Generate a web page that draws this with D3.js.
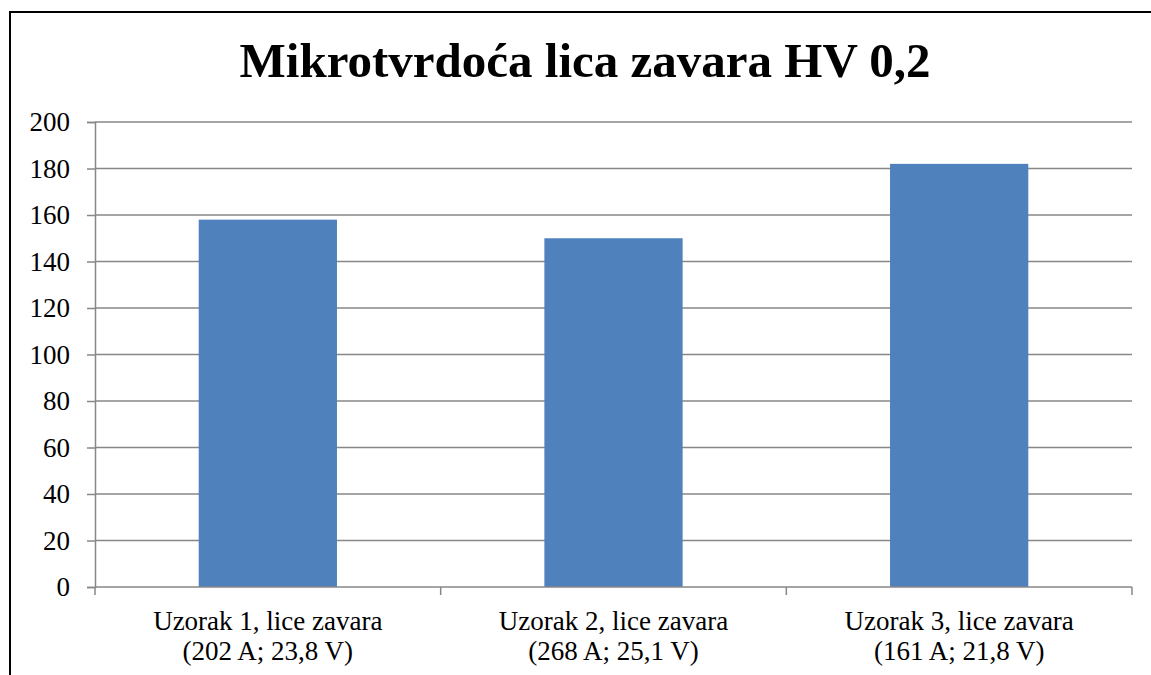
<!DOCTYPE html>
<html>
<head>
<meta charset="utf-8">
<script src="https://cdn.jsdelivr.net/npm/d3@7/dist/d3.min.js"></script>
<style>
  html, body { margin: 0; padding: 0; background: #fff; }
  svg { display: block; }
  svg text { font-family: "Liberation Serif", "DejaVu Serif", serif; fill: #000; }
</style>
</head>
<body>
<svg id="chart" width="1151" height="675"></svg>
<script>
// Microhardness of the weld face, HV 0.2
const title = "Mikrotvrdoća lica zavara HV 0,2";
const categories = ["Uzorak 1", "Uzorak 2", "Uzorak 3"];
const categoryLines = [
  ["Uzorak 1, lice zavara", "(202 A; 23,8 V)"],
  ["Uzorak 2, lice zavara", "(268 A; 25,1 V)"],
  ["Uzorak 3, lice zavara", "(161 A; 21,8 V)"]
];
const hardness = [158, 150, 182];
const yTicks = [0, 20, 40, 60, 80, 100, 120, 140, 160, 180, 200];

const svg = d3.select("#chart");
const W = 1151, H = 675;
const plot = { left: 95, right: 1132, top: 122, bottom: 587 };
const gridColor = "#878787";
const barColor = "#4F81BD";
const serif = '"Liberation Serif", "DejaVu Serif", serif';

// outer frame (continues past the right and bottom edges)
svg.append("rect")
  .attr("x", 10).attr("y", 12)
  .attr("width", W + 20).attr("height", H + 20)
  .attr("fill", "#fff")
  .attr("stroke", "#000")
  .attr("stroke-width", 2);

const x = d3.scaleBand()
  .domain(categories)
  .range([plot.left, plot.right])
  .paddingInner(0.6)
  .paddingOuter(0.3);

const y = d3.scaleLinear()
  .domain([0, 200])
  .range([plot.bottom, plot.top]);

// horizontal gridlines
svg.append("g")
  .selectAll("line")
  .data(yTicks.filter(d => d > 0))
  .join("line")
  .attr("x1", plot.left).attr("x2", plot.right)
  .attr("y1", d => y(d)).attr("y2", d => y(d))
  .attr("stroke", gridColor)
  .attr("stroke-width", 1.5);

// bars
svg.append("g")
  .selectAll("rect")
  .data(hardness)
  .join("rect")
  .attr("x", (d, i) => x(categories[i]))
  .attr("width", x.bandwidth())
  .attr("y", d => y(d))
  .attr("height", d => y(0) - y(d))
  .attr("fill", barColor);

// y axis
const yAxis = svg.append("g")
  .attr("transform", `translate(${plot.left},0)`)
  .call(d3.axisLeft(y).tickValues(yTicks).tickSize(8).tickPadding(17).tickFormat(d3.format("d")));
yAxis.attr("font-family", null).attr("font-size", null);
yAxis.select(".domain").attr("stroke", gridColor).attr("stroke-width", 1.5);
yAxis.selectAll(".tick line").attr("stroke", gridColor).attr("stroke-width", 1.5);
yAxis.selectAll(".tick text")
  .style("font-family", serif)
  .style("font-size", "27px")
  .attr("fill", "#000");

// x axis: ticks at category boundaries
const boundaries = d3.range(categories.length + 1).map(i => plot.left + i * x.step());
const xAxisG = svg.append("g");
xAxisG.append("line")
  .attr("x1", plot.left).attr("x2", plot.right)
  .attr("y1", plot.bottom).attr("y2", plot.bottom)
  .attr("stroke", gridColor).attr("stroke-width", 1.5);
xAxisG.selectAll("line.tick")
  .data(boundaries)
  .join("line")
  .attr("class", "tick")
  .attr("x1", d => d).attr("x2", d => d)
  .attr("y1", plot.bottom).attr("y2", plot.bottom + 8)
  .attr("stroke", gridColor).attr("stroke-width", 1.5);

// category labels (two lines each)
const labels = svg.append("g")
  .selectAll("text")
  .data(categories)
  .join("text")
  .attr("text-anchor", "middle")
  .style("font-family", serif)
  .style("font-size", "27px");
labels.each(function (d, i) {
  const t = d3.select(this);
  categoryLines[i].forEach((line, j) => {
    t.append("tspan")
      .attr("x", x(d) + x.bandwidth() / 2)
      .attr("y", 630 + j * 30)
      .text(line);
  });
});

// title
svg.append("text")
  .attr("x", 585)
  .attr("y", 77)
  .attr("text-anchor", "middle")
  .style("font-family", serif)
  .style("font-size", "49px")
  .style("font-weight", "bold")
  .text(title);
</script>
</body>
</html>
